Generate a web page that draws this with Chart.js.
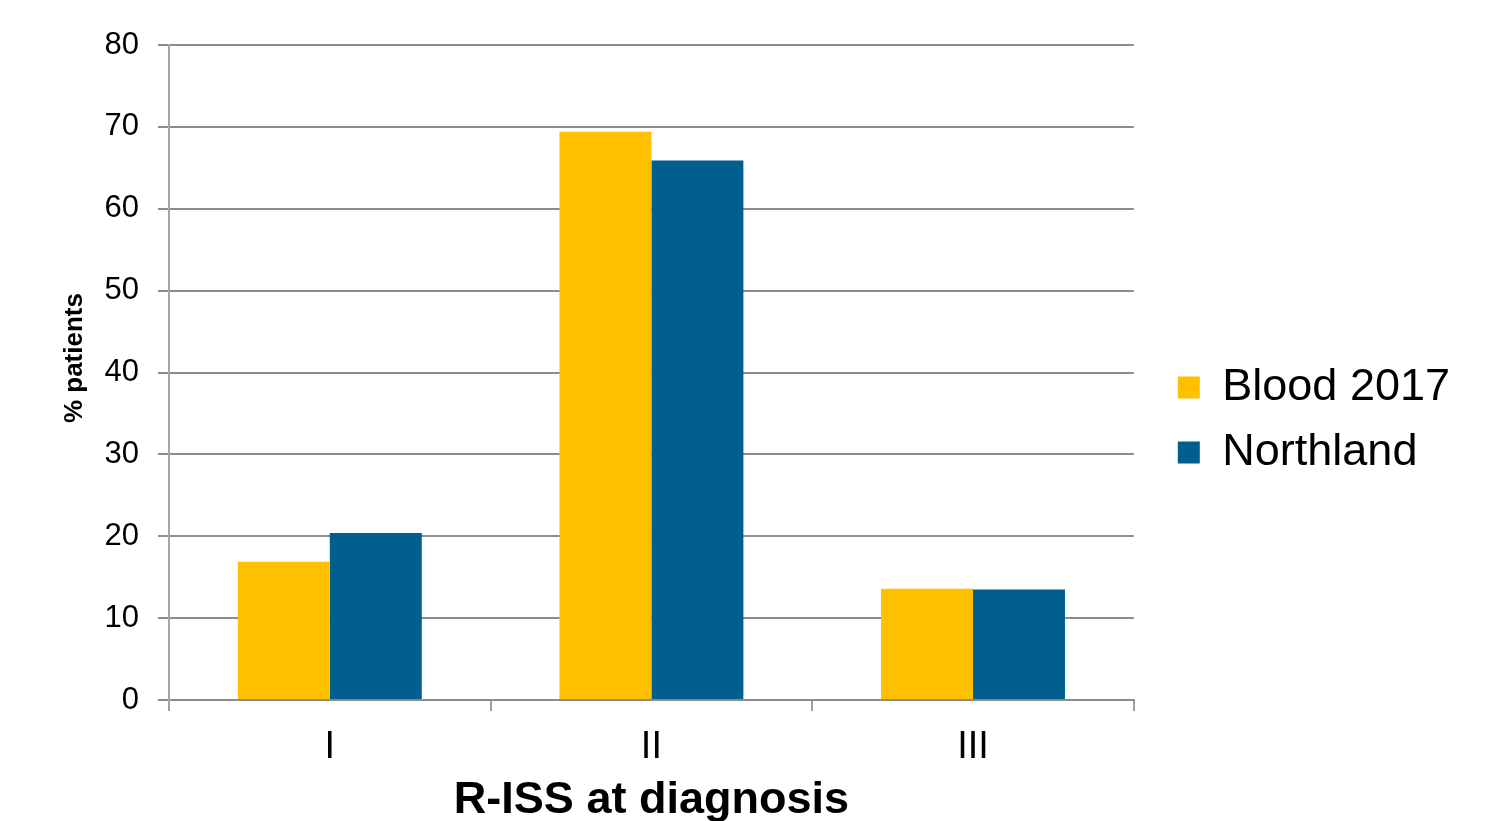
<!DOCTYPE html>
<html>
<head>
<meta charset="utf-8">
<script src="https://cdn.jsdelivr.net/npm/chart.js@4/dist/chart.umd.min.js"></script>
<style>
  html, body { margin: 0; padding: 0; background: #ffffff; }
  #wrap { width: 1504px; height: 821px; position: relative; }
</style>
</head>
<body>
<div id="wrap"><canvas id="c" width="1504" height="821"></canvas></div>
<script>
const categories = ['I', 'II', 'III'];
const blood2017 = [16.9, 69.4, 13.6];
const northland = [20.4, 65.9, 13.5];
const seriesNames = ['Blood 2017', 'Northland'];
const yTicksMin = 0;
const yTicksMax = 80;
const yTickStep = 10;
const xTitle = 'R-ISS at diagnosis';
const yTitle = '    % patients';

const FONT = "'Liberation Sans', Arial, sans-serif";

const legendShift = {
  id: 'legendShift',
  afterLayout(chart) {
    const L = chart.legend;
    if (!L) return;
    const dx = 24, dy = -13;
    L.left += dx; L.right += dx; L.top += dy; L.bottom += dy;
  }
};

new Chart(document.getElementById('c'), {
  type: 'bar',
  data: {
    labels: categories,
    datasets: [
      { label: seriesNames[0], data: blood2017, backgroundColor: '#FFC000', borderWidth: 0 },
      { label: seriesNames[1], data: northland, backgroundColor: '#005F8F', borderWidth: 0 }
    ]
  },
  options: {
    responsive: false,
    animation: false,
    devicePixelRatio: 1,
    layout: { padding: { top: 45, left: 0, right: 68, bottom: 0 } },
    datasets: { bar: { categoryPercentage: 0.572, barPercentage: 1.0 } },
    plugins: {
      tooltip: { enabled: false },
      legend: {
        position: 'right',
        align: 'center',
        labels: {
          font: { family: FONT, size: 45 },
          color: '#000000',
          boxWidth: 22,
          boxHeight: 22,
          padding: 20
        }
      }
    },
    scales: {
      x: {
        grid: { display: true, drawOnChartArea: false, drawTicks: true, tickLength: 11, color: '#a0a0a0', lineWidth: 2, offset: true },
        border: { display: true, color: '#8c8c8c', width: 2 },
        ticks: { font: { family: FONT, size: 38 }, color: '#000000', padding: 14, maxRotation: 0 },
        title: { display: true, text: xTitle, font: { family: FONT, size: 45, weight: 'bold', lineHeight: 1.0 }, color: '#000000', padding: { top: 0, bottom: -2 } },
        afterFit(scale) { scale.height = 121; }
      },
      y: {
        min: yTicksMin,
        max: yTicksMax,
        grid: { color: '#8c8c8c', lineWidth: 2, tickLength: 11, drawTicks: true },
        border: { display: true, color: '#a6a6a6', width: 2 },
        ticks: { stepSize: yTickStep, font: { family: FONT, size: 31 }, color: '#000000', padding: 19 },
        title: { display: true, text: yTitle, font: { family: FONT, size: 26, weight: 'bold', lineHeight: 1.2 }, color: '#000000', padding: { top: 59, bottom: 0 } },
        afterFit(scale) { scale.width = 169; }
      }
    }
  },
  plugins: [legendShift]
});
</script>
</body>
</html>
